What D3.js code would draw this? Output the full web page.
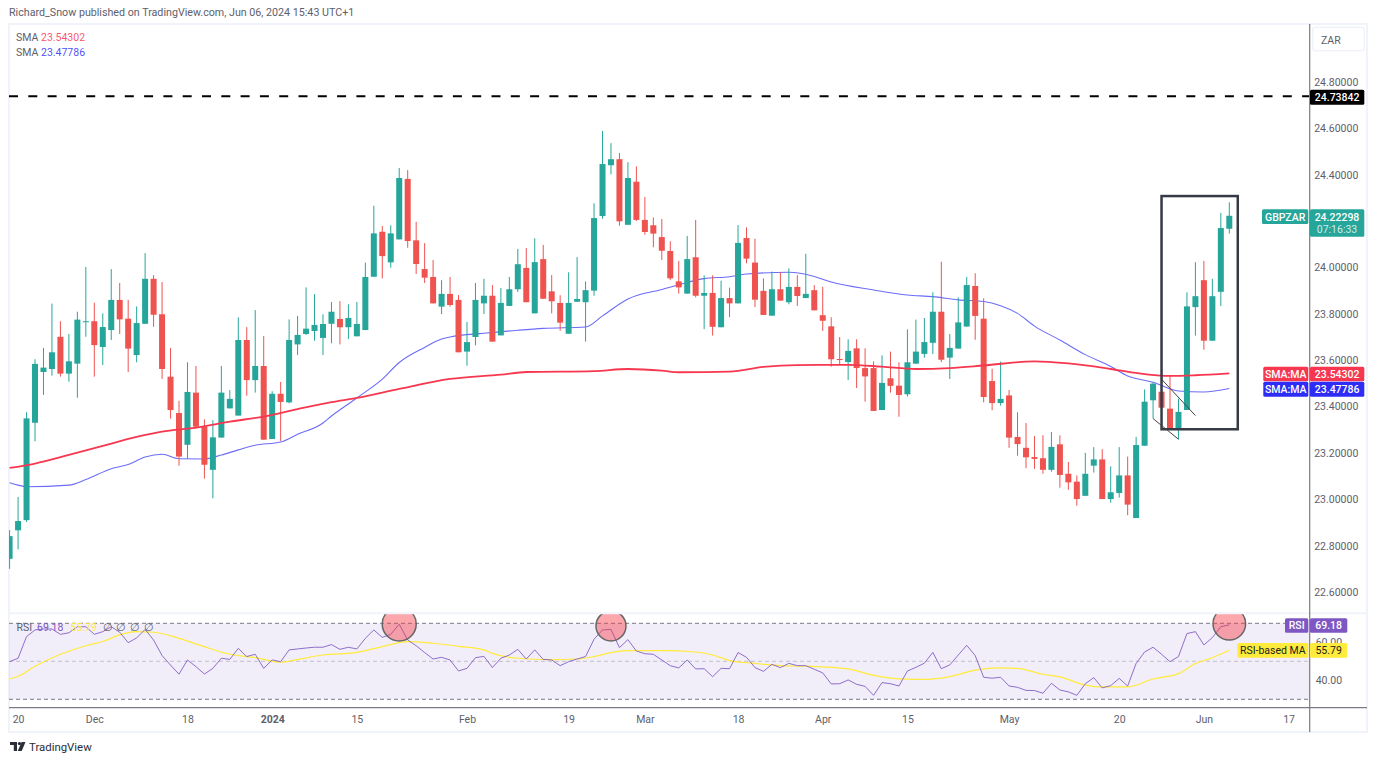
<!DOCTYPE html>
<html>
<head>
<meta charset="utf-8">
<script src="https://cdn.jsdelivr.net/npm/d3@7"></script>
<style>
  html, body { margin: 0; padding: 0; background: #fff; }
  svg { display: block; }
  text { font-family: Roboto, "Open Sans", sans-serif; }
  .axis text { fill: #5d606b; font-size: 10.5px; }
</style>
</head>
<body>
<div id="chart"></div>
<script>
// GBPZAR daily candles
const opens = [22.743,22.866,22.910,23.330,23.549,23.562,23.701,23.542,23.585,23.766,23.768,23.657,23.730,23.860,23.779,23.622,23.757,23.951,23.798,23.529,23.372,23.235,23.460,23.313,23.127,23.266,23.392,23.361,23.687,23.514,23.575,23.260,23.455,23.418,23.668,23.713,23.726,23.696,23.757,23.778,23.742,23.703,23.730,23.960,24.154,24.022,24.121,24.382,24.117,23.993,23.959,23.831,23.886,23.860,23.637,23.700,23.845,23.878,23.707,23.834,23.906,23.998,23.802,24.036,23.897,23.847,23.714,23.852,23.850,23.900,24.222,24.441,24.467,24.184,24.370,24.205,24.182,24.131,24.071,23.940,23.887,24.044,23.878,23.890,23.742,23.868,23.845,24.127,24.021,23.899,23.792,23.906,23.850,23.916,23.868,23.902,23.794,23.746,23.605,23.592,23.651,23.566,23.566,23.385,23.522,23.490,23.453,23.585,23.627,23.675,23.809,23.611,23.650,23.745,23.920,23.779,23.510,23.415,23.448,23.269,23.222,23.182,23.177,23.127,23.237,23.110,23.076,23.015,23.145,23.172,23.001,23.027,23.103,22.919,23.231,23.427,23.464,23.391,23.304,23.385,23.829,23.945,23.684,23.895,24.167];
const highs = [22.867,23.010,23.375,23.604,23.653,23.844,23.768,23.713,23.809,24.002,23.848,23.802,23.993,23.933,23.860,23.832,24.062,23.967,23.937,23.653,23.425,23.591,23.575,23.345,23.341,23.575,23.471,23.785,23.743,23.816,23.704,23.466,23.506,23.776,23.791,23.914,23.885,23.798,23.851,23.855,23.841,23.851,24.021,24.266,24.179,24.182,24.429,24.420,24.197,24.105,24.032,23.945,23.959,23.881,23.765,23.933,23.951,23.924,23.911,23.959,24.080,24.084,24.126,24.097,23.967,23.880,23.979,24.045,23.940,24.277,24.589,24.536,24.494,24.454,24.436,24.304,24.216,24.209,24.113,24.028,24.136,24.205,23.966,23.966,23.943,23.913,24.183,24.173,24.124,23.953,23.982,23.979,23.996,23.967,24.059,23.924,23.917,23.785,23.700,23.690,23.690,23.651,23.595,23.621,23.637,23.591,23.733,23.775,23.782,23.893,24.025,23.713,23.871,23.959,23.975,23.867,23.563,23.594,23.471,23.375,23.329,23.273,23.276,23.290,23.276,23.161,23.103,23.200,23.225,23.216,23.142,23.225,23.184,23.269,23.474,23.504,23.529,23.536,23.434,23.893,24.023,24.028,23.951,24.235,24.281];
const lows = [22.700,22.784,22.902,23.250,23.450,23.533,23.529,23.507,23.438,23.701,23.529,23.579,23.687,23.713,23.549,23.591,23.757,23.744,23.519,23.348,23.145,23.175,23.306,23.089,23.004,23.266,23.392,23.361,23.447,23.460,23.257,23.260,23.251,23.414,23.622,23.709,23.684,23.622,23.673,23.668,23.691,23.703,23.730,23.960,23.953,23.999,24.121,24.085,23.972,23.933,23.845,23.799,23.831,23.634,23.576,23.664,23.799,23.680,23.707,23.834,23.894,23.850,23.802,23.865,23.802,23.727,23.714,23.852,23.680,23.878,24.210,24.402,24.180,24.184,24.200,24.141,24.087,24.032,23.945,23.887,23.887,23.871,23.734,23.706,23.742,23.786,23.845,24.018,23.829,23.795,23.792,23.857,23.841,23.834,23.868,23.815,23.726,23.572,23.579,23.514,23.480,23.421,23.381,23.385,23.460,23.356,23.443,23.585,23.611,23.627,23.592,23.519,23.650,23.745,23.688,23.418,23.384,23.404,23.222,23.188,23.134,23.131,23.110,23.119,23.050,23.041,22.972,23.015,23.115,23.001,22.985,23.007,22.931,22.919,23.231,23.348,23.395,23.304,23.259,23.385,23.706,23.645,23.684,23.834,24.146];
const closes = [22.841,22.906,23.349,23.584,23.568,23.634,23.542,23.595,23.775,23.768,23.665,23.743,23.860,23.776,23.650,23.760,23.951,23.796,23.562,23.385,23.184,23.463,23.313,23.149,23.267,23.460,23.433,23.687,23.514,23.575,23.257,23.455,23.420,23.687,23.709,23.736,23.752,23.756,23.809,23.742,23.782,23.756,23.959,24.147,24.049,24.147,24.386,24.114,24.015,23.956,23.845,23.886,23.838,23.634,23.678,23.860,23.878,23.680,23.847,23.906,24.014,23.850,24.023,23.865,23.854,23.762,23.847,23.864,23.902,24.213,24.446,24.467,24.199,24.386,24.205,24.153,24.146,24.072,23.953,23.914,24.036,23.878,23.890,23.744,23.868,23.845,24.106,24.038,23.861,23.795,23.906,23.857,23.916,23.877,23.886,23.815,23.770,23.604,23.602,23.640,23.566,23.530,23.381,23.502,23.489,23.450,23.591,23.637,23.678,23.809,23.602,23.653,23.763,23.924,23.791,23.441,23.415,23.433,23.266,23.238,23.181,23.174,23.127,23.226,23.105,23.073,23.001,23.110,23.172,23.001,23.030,23.103,22.977,23.234,23.421,23.499,23.395,23.304,23.377,23.832,23.876,23.684,23.876,24.170,24.22298];

// moving averages, read at the candles listed in the *Idx arrays
const sma200Idx = [0,3,7,11,15,18,22,26,30,34,38,41,46,52,58,61,69,73,77,79,85,89,93,99,103,107,111,115,121,125,130,133,137,140,144];
const sma200 = [23.135,23.154,23.191,23.230,23.269,23.292,23.309,23.335,23.357,23.389,23.419,23.437,23.476,23.519,23.538,23.549,23.553,23.562,23.555,23.548,23.551,23.571,23.579,23.580,23.572,23.562,23.566,23.577,23.595,23.586,23.562,23.545,23.532,23.535,23.54302];
const sma50Idx = [0,1,2,7,9,12,14,16,18,20,23,25,27,29,32,34,37,38,41,44,46,49,51,52,56,60,63,68,70,73,77,79,82,85,87,92,95,97,102,106,109,112,115,117,119,121,124,127,130,132,135,138,141,144];
const sma50 = [23.071,23.061,23.054,23.061,23.085,23.132,23.150,23.182,23.194,23.175,23.174,23.191,23.213,23.233,23.247,23.280,23.329,23.359,23.437,23.518,23.590,23.655,23.691,23.700,23.716,23.729,23.737,23.743,23.791,23.864,23.905,23.925,23.952,23.960,23.972,23.979,23.961,23.937,23.903,23.881,23.874,23.860,23.853,23.835,23.802,23.747,23.687,23.624,23.573,23.532,23.505,23.467,23.463,23.47786];

// RSI pane
const rsi = [49.8,51.6,63,66.5,67,67,64.2,65,68.2,68.2,64.2,65.6,68.2,65.3,59.8,62.3,66.8,61.2,53,48,43.2,50.7,47.2,43.3,46.3,51.6,51,56.8,52.5,53.7,46.3,50.7,49.8,56,56.5,57,57.4,57.4,58.8,56.3,57.4,56.5,62.1,66.5,62.6,64.2,69.5,61.2,58.2,54.6,51.2,52.1,50.7,44.9,46.3,51.9,52.6,46.7,51.6,53.3,56.3,51.2,56,51,50.7,47.7,49.8,51.2,52.5,61.6,66.5,66.8,57.2,61.4,55.4,54,53.7,50.7,47.7,46.5,50.7,46,46.1,41.9,46.3,46.1,54.6,52.1,46.7,44.7,48.4,46.7,48.9,47.7,47.7,45.8,43.9,38.1,38.2,40.2,37.9,36.8,32.1,38.8,38.2,37,44.9,46.8,49,54.7,46.1,48.1,53.3,58.4,53,41.6,41.1,41.6,37,36.3,34.7,34.6,33.2,38.4,34.9,33.9,32.1,38.2,41.4,36,37.2,41,37,48.9,54.9,57.4,53.7,49.8,52.5,64.6,65.6,58.6,62.5,68.2,69.18];
const rsiMaIdx = [0,1,3,6,9,11,13,15,17,20,23,26,29,32,34,37,41,44,47,50,53,56,57,60,64,67,69,71,73,77,81,83,85,88,91,94,99,102,106,108,111,114,117,119,122,124,127,129,132,135,138,140,142,144];
const rsiMa = [40.7,42.1,47.4,53.7,58.2,60.4,63.9,65.6,65.3,62.1,57.7,53.7,51.9,49.5,51,53.3,54.7,57.7,60.4,59.5,57.9,56,54.2,51.6,50.9,51.2,52.5,54.6,55.6,55.6,54.9,53.3,50.4,48.9,47.7,47.4,46,42.6,40.6,40.5,41.9,45.4,46.5,46.3,43.2,41.8,37.5,36.5,36.5,40.7,43.5,48.8,51.9,55.79];

// time axis labels
const timeTickIdx = [1,10,21,31,41,54,66,75,86,96,106,118,131,141,151];
const timeTickLabels = ["20","Dec","18","2024","15","Feb","19","Mar","18","Apr","15","May","20","Jun","17"];
// 24.2 sits behind the last price tag, so it is not drawn
const priceTicks = [22.6,22.8,23.0,23.2,23.4,23.6,23.8,24.0,24.4,24.6,24.8];
const rsiTicks = [40,60];
const rsiBands = [70,50,30];

// annotations
const resistance = 24.73842;
const boxIdx = [136,145];
const boxPrice = [24.308,23.302];
const flagLines = [
  { idx: [136,140], price: [23.518,23.361] },
  { idx: [135,138], price: [23.348,23.259] }
];
const rsiCircles = [
  { idx: 46, value: 69.6, r: 17 },
  { idx: 71, value: 68.6, r: 15 },
  { idx: 144, value: 69.8, r: 16.3 }
];

const width = 1377, height = 763;
const paneLeft = 9, paneRight = 1309.7, paneTop = 24, paneMid = 613.3, paneBottom = 707.7;
const up = '#26a69a', down = '#ef5350', redMa = '#f7374f', blueMa = '#2d2df5';
const purple = '#7e57c2', yellow = '#ffeb3b';

const x = d3.scaleLinear().domain([0,144]).range([9.6,1229.3]);
const y = d3.scaleLinear().domain([22.6,24.8]).range([592,82]);
const yRsi = d3.scaleLinear().domain([30,70]).range([699.3,623.3]);

const svg = d3.select('#chart').append('svg').attr('width', width).attr('height', height);
const defs = svg.append('defs');
defs.append('clipPath').attr('id', 'main-clip').append('rect')
  .attr('x', paneLeft).attr('y', paneTop).attr('width', paneRight - paneLeft).attr('height', paneMid - paneTop);
defs.append('clipPath').attr('id', 'rsi-clip').append('rect')
  .attr('x', paneLeft).attr('y', paneMid + 1).attr('width', paneRight - paneLeft).attr('height', paneBottom - paneMid - 1);

// header text
svg.append('text').attr('x', 9).attr('y', 16).attr('fill', '#5d606b').style('font-size', '10.7px')
  .text('Richard_Snow published on TradingView.com, Jun 06, 2024 15:43 UTC+1');

// frame
svg.append('rect').attr('x', 9).attr('y', 24).attr('width', 1358).attr('height', 708)
  .attr('fill', 'none').attr('stroke', '#f0f3fa').attr('stroke-width', 2);
svg.append('line').attr('x1', paneLeft).attr('x2', 1367).attr('y1', paneMid).attr('y2', paneMid)
  .attr('stroke', '#f0f3fa').attr('stroke-width', 2);

// main pane
const main = svg.append('g').attr('clip-path', 'url(#main-clip)');
main.append('line').attr('x1', paneLeft).attr('x2', paneRight).attr('y1', y(resistance)).attr('y2', y(resistance))
  .attr('stroke', '#000').attr('stroke-width', 2).attr('stroke-dasharray', '9 10.3');

const maLine = d3.line().x(d => x(d[0])).y(d => y(d[1])).curve(d3.curveMonotoneX);
main.append('path').attr('d', maLine(d3.zip(sma50Idx, sma50)))
  .attr('fill', 'none').attr('stroke', blueMa).attr('stroke-opacity', 0.7).attr('stroke-width', 1.1);

const candles = main.selectAll('.candle').data(opens.map((o, i) => ({ i, o, h: highs[i], l: lows[i], c: closes[i] })))
  .enter().append('g').attr('class', 'candle')
  .attr('fill', d => d.c >= d.o ? up : down).attr('stroke', d => d.c >= d.o ? up : down);
candles.append('line').attr('x1', d => x(d.i)).attr('x2', d => x(d.i))
  .attr('y1', d => y(d.h)).attr('y2', d => y(d.l)).attr('stroke-width', 1);
candles.append('rect').attr('x', d => x(d.i) - 3).attr('width', 6).attr('stroke', 'none')
  .attr('y', d => y(Math.max(d.o, d.c)))
  .attr('height', d => Math.max(1, y(Math.min(d.o, d.c)) - y(Math.max(d.o, d.c))));

main.append('path').attr('d', maLine(d3.zip(sma200Idx, sma200)))
  .attr('fill', 'none').attr('stroke', redMa).attr('stroke-width', 1.8);

main.append('rect').attr('x', x(boxIdx[0])).attr('width', x(boxIdx[1]) - x(boxIdx[0]))
  .attr('y', y(boxPrice[0])).attr('height', y(boxPrice[1]) - y(boxPrice[0]))
  .attr('fill', 'none').attr('stroke', '#363a45').attr('stroke-width', 2.5);
main.selectAll('.flag').data(flagLines).enter().append('line').attr('class', 'flag')
  .attr('x1', d => x(d.idx[0])).attr('x2', d => x(d.idx[1]))
  .attr('y1', d => y(d.price[0])).attr('y2', d => y(d.price[1]))
  .attr('stroke', '#444').attr('stroke-width', 1);

// legend
[['SMA', 23.54302, redMa], ['SMA', 23.47786, blueMa]].forEach((row, k) => {
  const ly = k === 0 ? 41 : 56;
  svg.append('text').attr('x', 16).attr('y', ly).attr('fill', '#5d606b').style('font-size', '10.5px').text(row[0]);
  svg.append('text').attr('x', 41).attr('y', ly).attr('fill', row[2]).attr('fill-opacity', 0.85).style('font-size', '10.5px').text(d3.format('.5f')(row[1]));
});

// RSI pane
const rsiPane = svg.append('g').attr('clip-path', 'url(#rsi-clip)');
rsiPane.append('rect').attr('x', paneLeft).attr('width', paneRight - paneLeft)
  .attr('y', yRsi(70)).attr('height', yRsi(30) - yRsi(70)).attr('fill', purple).attr('fill-opacity', 0.1);
rsiPane.selectAll('.band').data(rsiBands).enter().append('line').attr('class', 'band')
  .attr('x1', paneLeft).attr('x2', paneRight).attr('y1', d => yRsi(d)).attr('y2', d => yRsi(d))
  .attr('stroke', '#787b86').attr('stroke-opacity', d => d === 50 ? 0.4 : 1).attr('stroke-dasharray', '4 3');

const rsiLine = d3.line().x((d, i) => x(i)).y(d => yRsi(d));
const rsiMaLine = d3.line().x(d => x(d[0])).y(d => yRsi(d[1])).curve(d3.curveMonotoneX);
rsiPane.append('path').attr('d', rsiMaLine(d3.zip(rsiMaIdx, rsiMa))).attr('fill', 'none').attr('stroke', yellow).attr('stroke-width', 1.2);
rsiPane.append('path').attr('d', rsiLine(rsi)).attr('fill', 'none').attr('stroke', purple).attr('stroke-opacity', 0.85).attr('stroke-width', 1);
rsiPane.selectAll('.mark').data(rsiCircles).enter().append('circle').attr('class', 'mark')
  .attr('cx', d => x(d.idx)).attr('cy', d => yRsi(d.value)).attr('r', d => d.r)
  .attr('fill', '#f73c46').attr('fill-opacity', 0.45).attr('stroke', '#666').attr('stroke-width', 1.5);

// RSI legend
const legendY = 631;
svg.append('text').attr('x', 16.5).attr('y', legendY).attr('fill', '#5d606b').style('font-size', '10.5px').text('RSI');
svg.append('text').attr('x', 37).attr('y', legendY).attr('fill', purple).style('font-size', '10.5px').text('69.18');
svg.append('text').attr('x', 70.5).attr('y', legendY).attr('fill', yellow).style('font-size', '10.5px').text('55.79');
[106,119,133,147].forEach(lx => svg.append('text').attr('x', lx - 3.5).attr('y', legendY).attr('fill', '#5d606b').style('font-size', '10.5px').text('∅'));

// axes
const priceAxis = d3.axisRight(y).tickValues(priceTicks).tickFormat(d3.format('.5f')).tickSize(0).tickPadding(4.5);
svg.append('g').attr('class', 'axis').attr('transform', `translate(${paneRight},0)`).call(priceAxis).select('.domain').remove();
const rsiAxis = d3.axisRight(yRsi).tickValues(rsiTicks).tickFormat(d3.format('.2f')).tickSize(0).tickPadding(6);
svg.append('g').attr('class', 'axis').attr('transform', `translate(${paneRight},0)`).call(rsiAxis).select('.domain').remove();
const timeAxis = d3.axisBottom(x).tickValues(timeTickIdx).tickFormat((d, i) => timeTickLabels[i]).tickSize(0).tickPadding(8);
const timeG = svg.append('g').attr('class', 'axis').attr('transform', `translate(0,${paneBottom})`).call(timeAxis);
timeG.select('.domain').remove();
timeG.selectAll('text').style('font-weight', d => d === 31 ? 700 : 400);

svg.append('line').attr('x1', paneRight).attr('x2', paneRight).attr('y1', paneTop).attr('y2', 732).attr('stroke', '#787b86').attr('stroke-width', 1.2);
svg.append('line').attr('x1', paneLeft).attr('x2', 1367).attr('y1', paneBottom).attr('y2', paneBottom).attr('stroke', '#787b86').attr('stroke-width', 1.2);

// ZAR unit box
svg.append('rect').attr('x', 1312.7).attr('y', 27.3).attr('width', 51.6).attr('height', 23.4).attr('rx', 3)
  .attr('fill', '#fff').attr('stroke', '#f0f3fa').attr('stroke-width', 1.5);
svg.append('text').attr('x', 1321).attr('y', 44).attr('fill', '#5d606b').style('font-size', '10.5px').text('ZAR');

// axis tags
function tag(x0, x1, cy, h, fill, label, color, weight) {
  svg.append('rect').attr('x', x0).attr('y', cy - h / 2).attr('width', x1 - x0).attr('height', h).attr('rx', 1.5).attr('fill', fill);
  svg.append('text').attr('x', (x0 + x1) / 2).attr('y', cy + 3.8).attr('text-anchor', 'middle')
    .attr('fill', color).style('font-size', '10.5px').style('font-weight', weight || 500).text(label);
}
const fmt5 = d3.format('.5f');
tag(1310, 1364.3, y(resistance) + 1, 15, '#000', fmt5(resistance), '#fff');
tag(1262, 1308.3, 216.7, 14.7, up, 'GBPZAR', '#fff');
svg.append('rect').attr('x', 1310).attr('y', 209.3).attr('width', 54.3).attr('height', 27.4).attr('rx', 1.5).attr('fill', up);
svg.append('text').attr('x', 1337).attr('y', 220.8).attr('text-anchor', 'middle').attr('fill', '#fff').style('font-size', '10.5px').style('font-weight', 500).text(fmt5(closes[144]));
svg.append('text').attr('x', 1337).attr('y', 233).attr('text-anchor', 'middle').attr('fill', '#fff').attr('fill-opacity', 0.8).style('font-size', '10.5px').text('07:16:33');
tag(1263.3, 1308.3, 374, 14.6, redMa, 'SMA:MA', '#fff');
tag(1310, 1364.3, 374, 14.6, redMa, fmt5(sma200[sma200.length - 1]), '#fff');
tag(1263.3, 1308.3, 389.2, 15, blueMa, 'SMA:MA', '#fff');
tag(1310, 1364.3, 389.2, 15, blueMa, fmt5(sma50[sma50.length - 1]), '#fff');
tag(1285, 1308.3, 625.5, 14.4, purple, 'RSI', '#fff');
tag(1310, 1347.3, 625.5, 14.4, purple, '69.18', '#fff');
tag(1237.3, 1308.3, 650.3, 14.7, yellow, 'RSI-based MA', '#222', 400);
tag(1310, 1347.3, 650.3, 14.7, yellow, '55.79', '#222', 400);

// footer logo
const logo = svg.append('g').attr('fill', '#2a2e39');
logo.append('path').attr('d', 'M10 742h7v9h-3.2v-6H10z');
logo.append('circle').attr('cx', 19.5).attr('cy', 743.6).attr('r', 1.7);
logo.append('path').attr('d', 'M21.6 742h3.9l-3.8 9h-3.9z');
svg.append('text').attr('x', 29).attr('y', 751).attr('fill', '#2a2e39').style('font-size', '11.4px').style('font-weight', 400).text('TradingView');
</script>
</body>
</html>
